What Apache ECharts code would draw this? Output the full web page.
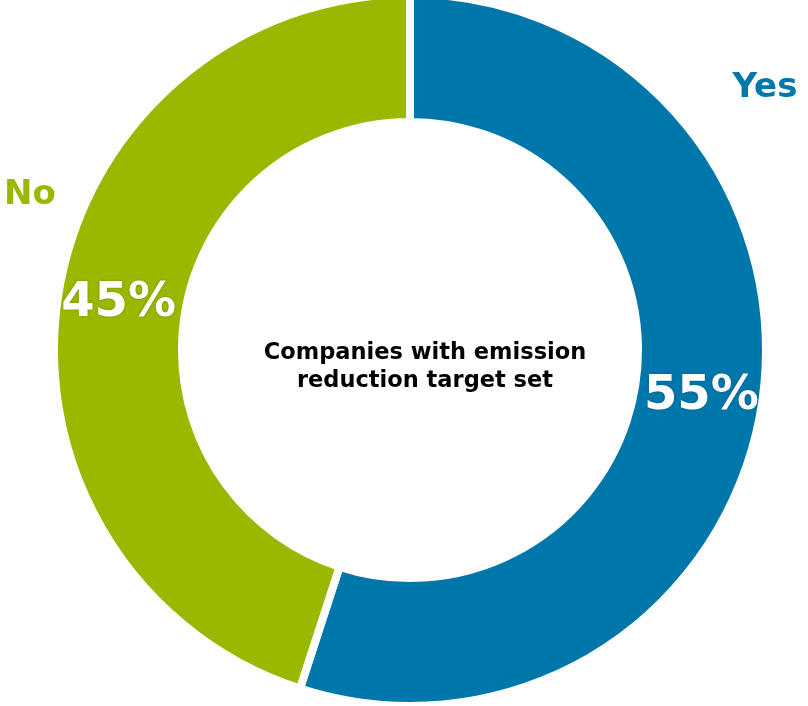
<!DOCTYPE html>
<html>
<head>
<meta charset="utf-8">
<script src="https://cdn.jsdelivr.net/npm/echarts@6/dist/echarts.min.js"></script>
<style>
  html, body { margin: 0; padding: 0; background: #fff; }
  #chart { width: 808px; height: 706px; }
</style>
</head>
<body>
<div id="chart"></div>
<script>
// 数据
const categories = ['Yes', 'No'];
const values = [55, 45];
const colors = ['#0077aa', '#9bb800'];
const centerTitle = 'Companies with emission\nreduction target set';

// 外部标签位置
const outerLabelPos = [[765, 88], [30, 195]];

const chart = echarts.init(document.getElementById('chart'));

chart.setOption({
    backgroundColor: '#fff',
    animation: false,
    textStyle: { fontFamily: 'DejaVu Sans, Verdana, sans-serif' },
    series: [{
        type: 'pie',
        center: [410, 350],
        radius: [228, 356],
        startAngle: 90,
        clockwise: true,
        itemStyle: {
            borderColor: '#fff',
            borderWidth: 8
        },
        label: {
            show: true,
            position: 'inside',
            formatter: '{d}%',
            color: '#fff',
            fontSize: 48,
            fontWeight: 'bold',
            fontFamily: 'DejaVu Sans, Verdana, sans-serif',
            textShadowColor: 'rgba(0,0,0,0.25)',
            textShadowBlur: 3
        },
        labelLine: { show: false },
        data: categories.map((name, i) => ({
            name: name,
            value: values[i],
            itemStyle: { color: colors[i] }
        }))
    }],
    graphic: [
        {
            type: 'text',
            x: 425,
            y: 367,
            style: {
                text: centerTitle,
                align: 'center',
                verticalAlign: 'middle',
                fill: '#000',
                font: 'bold 22.5px "DejaVu Sans", Verdana, sans-serif',
                lineHeight: 28
            }
        },
        ...categories.map((name, i) => ({
            type: 'text',
            x: outerLabelPos[i][0],
            y: outerLabelPos[i][1],
            style: {
                text: name,
                align: 'center',
                verticalAlign: 'middle',
                fill: colors[i],
                font: 'bold 34px "DejaVu Sans", Verdana, sans-serif'
            }
        }))
    ]
});
</script>
</body>
</html>
